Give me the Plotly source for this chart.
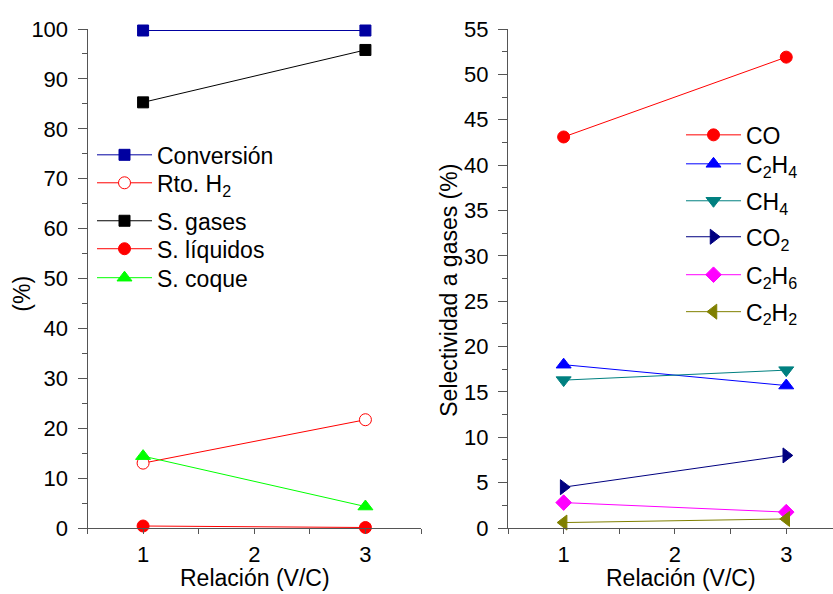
import plotly.graph_objects as go

x_rel = [1, 3]

# Left panel series (%)
conversion = [99.7, 99.7]
rto_h2 = [13.0, 21.7]
s_gases = [85.3, 95.8]
s_liquidos = [0.4, 0.1]
s_coque = [14.4, 4.3]

# Right panel series: selectividad a gases (%)
sel_co = [43.1, 51.9]
sel_c2h4 = [18.0, 15.7]
sel_ch4 = [16.3, 17.4]
sel_co2 = [4.5, 8.0]
sel_c2h6 = [2.8, 1.75]
sel_c2h2 = [0.6, 1.0]

FONT = "Arial, Liberation Sans, sans-serif"
AX = "#555555"
W, H = 833, 594
MT, MB = 29, 65.5
ph = H - MT - MB

def px(x):
    return x / W

def py(y):
    return 1 - (y - MT) / ph

fig = go.Figure()
legends = {}
count = [0]

def add(y, name, color, symbol, size, xa, ya, lx, ly, fill=None):
    count[0] += 1
    key = "legend" if count[0] == 1 else "legend%d" % count[0]
    fig.add_trace(go.Scatter(
        x=x_rel, y=y, name=name, mode="lines+markers",
        line=dict(color=color, width=1),
        marker=dict(symbol=symbol, size=size, color=fill if fill else color,
                    line=dict(color=color, width=1)),
        xaxis=xa, yaxis=ya, legend=key, cliponaxis=False,
    ))
    legends[key] = dict(x=px(lx), y=py(ly), xanchor="left", yanchor="middle",
                        bgcolor="rgba(0,0,0,0)", font=dict(size=23, family=FONT, color="black"),
                        itemwidth=55, borderwidth=0)

LLX = 92
add(conversion, "Conversión", "#0000A0", "square", 11, "x", "y", LLX, 155)
add(rto_h2, "Rto. H<sub>2</sub>", "#FF0000", "circle", 12, "x", "y", LLX, 183, fill="white")
add(s_gases, "S. gases", "#000000", "square", 11, "x", "y", LLX, 221)
add(s_liquidos, "S. líquidos", "#FF0000", "circle", 12, "x", "y", LLX, 249)
add(s_coque, "S. coque", "#00FF00", "triangle-up", 13, "x", "y", LLX, 278)

RLX = 681
add(sel_co, "CO", "#FF0000", "circle", 12, "x2", "y2", RLX, 135)
add(sel_c2h4, "C<sub>2</sub>H<sub>4</sub>", "#0000FF", "triangle-up", 13, "x2", "y2", RLX, 164)
add(sel_ch4, "CH<sub>4</sub>", "#008080", "triangle-down", 13, "x2", "y2", RLX, 201)
add(sel_co2, "CO<sub>2</sub>", "#000080", "triangle-right", 13, "x2", "y2", RLX, 237)
add(sel_c2h6, "C<sub>2</sub>H<sub>6</sub>", "#FF00FF", "diamond", 12, "x2", "y2", RLX, 275)
add(sel_c2h2, "C<sub>2</sub>H<sub>2</sub>", "#808000", "triangle-left", 13, "x2", "y2", RLX, 312)

def yax(rng, dt, minor_dt):
    return dict(range=rng, dtick=dt, tick0=0, showline=True, linecolor=AX, linewidth=1,
                ticks="outside", ticklen=9, tickcolor=AX, tickwidth=1,
                minor=dict(ticks="outside", ticklen=5, dtick=minor_dt, tickcolor=AX, tickwidth=1),
                showgrid=False, zeroline=False, tickfont=dict(size=22, color="black", family=FONT),
                automargin=False, ticklabelstandoff=5)

def xax(rng):
    return dict(range=rng, tickvals=[1, 2, 3], showline=True, linecolor=AX, linewidth=1,
                ticks="outside", ticklen=5, tickcolor=AX, tickwidth=1,
                minor=dict(ticks="outside", ticklen=5, tick0=0.5, dtick=1, tickcolor=AX, tickwidth=1),
                showgrid=False, zeroline=False, tickfont=dict(size=22, color="black", family=FONT),
                automargin=False, ticklabelstandoff=2)

fig.update_layout(
    width=W, height=H, margin=dict(l=0, r=0, t=MT, b=MB),
    paper_bgcolor="white", plot_bgcolor="white", showlegend=True,
    font=dict(family=FONT, size=22, color="black"),
    xaxis=dict(domain=[px(87.5), px(421)], anchor="y", **xax([0.5, 3.5])),
    yaxis=dict(domain=[0, 1], anchor="x", **yax([0, 100], 10, 5)),
    xaxis2=dict(domain=[px(508), 1], anchor="y2", **xax([0.5, 3.42])),
    yaxis2=dict(domain=[0, 1], anchor="x2", **yax([0, 55], 5, 2.5)),
    annotations=[
        dict(text="(%)", x=px(22), y=py(294), xref="paper", yref="paper",
             textangle=-90, showarrow=False, font=dict(size=23), xanchor="center", yanchor="middle"),
        dict(text="Selectividad a gases (%)", x=px(449), y=py(291), xref="paper", yref="paper",
             textangle=-90, showarrow=False, font=dict(size=23), xanchor="center", yanchor="middle"),
        dict(text="Relación (V/C)", x=px(255), y=py(594), xref="paper", yref="paper",
             showarrow=False, font=dict(size=23), xanchor="center", yanchor="bottom"),
        dict(text="Relación (V/C)", x=px(681), y=py(594), xref="paper", yref="paper",
             showarrow=False, font=dict(size=23), xanchor="center", yanchor="bottom"),
    ],
)
fig.update_layout(**legends)

fig.write_html("out.html")
